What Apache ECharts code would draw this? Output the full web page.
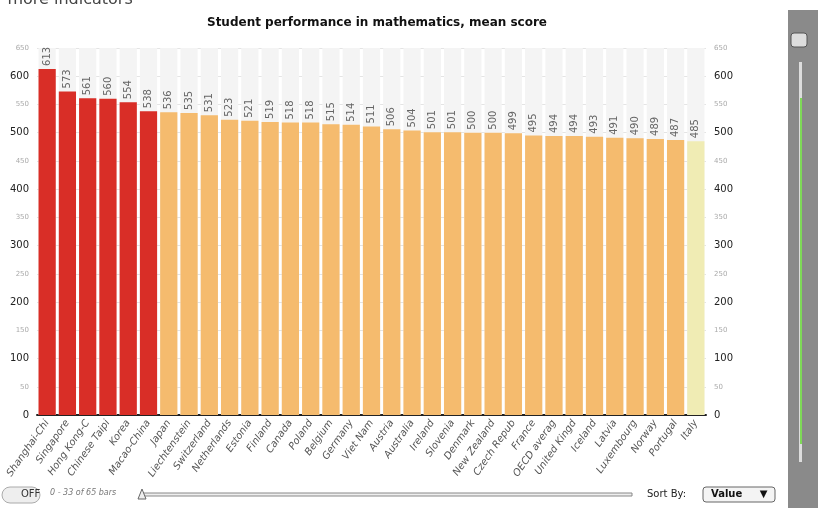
<!DOCTYPE html>
<html>
<head>
<meta charset="utf-8">
<script src="https://cdn.jsdelivr.net/npm/echarts@6/dist/echarts.min.js"></script>
<style>html,body{margin:0;padding:0;background:#fff}#chart{width:824px;height:520px}</style>
</head>
<body>
<div id="chart"></div>
<script>
var countries = ['Shanghai-Chi','Singapore','Hong Kong-C','Chinese Taipi','Korea','Macao-China','Japan','Liechtenstein','Switzerland','Netherlands','Estonia','Finland','Canada','Poland','Belgium','Germany','Viet Nam','Austria','Australia','Ireland','Slovenia','Denmark','New Zealand','Czech Repub','France','OECD averag','United Kingd','Iceland','Latvia','Luxembourg','Norway','Portugal','Italy'];
var scores = [613,573,561,560,554,538,536,535,531,523,521,519,518,518,515,514,511,506,504,501,501,500,500,499,495,494,494,493,491,490,489,487,485];
var topCount = 6;

function barColor(i) {
  if (i < topCount) return '#d92e27';
  if (i === countries.length - 1) return '#f0ecb4';
  return '#f5bb6e';
}

var chart = echarts.init(document.getElementById('chart'));
var yLabel = {
  fontFamily: 'DejaVu Sans',
  formatter: function (v) { return v % 100 === 0 ? '{major|' + v + '}' : '{minor|' + v + '}'; },
  rich: {
    major: { fontSize: 10, color: '#222' },
    minor: { fontSize: 7, color: '#aaa' }
  }
};
chart.setOption({
  animation: false,
  title: {
    text: 'Student performance in mathematics, mean score',
    left: 372, top: 12, textAlign: 'center',
    textStyle: { fontFamily: 'DejaVu Sans', fontSize: 12, fontWeight: 'bold', color: '#111' }
  },
  grid: { left: 37, right: 118, top: 48, bottom: 105 },
  xAxis: {
    type: 'category', data: countries,
    axisTick: { show: false },
    axisLine: { lineStyle: { color: '#222', width: 2 } },
    axisLabel: { rotate: 55, interval: 0, fontSize: 10, color: '#555', fontStyle: 'italic',
      fontFamily: 'DejaVu Sans', margin: 6 }
  },
  yAxis: [
    { type: 'value', min: 0, max: 650, interval: 50, axisLabel: yLabel,
      splitLine: { lineStyle: { color: '#e4e4e4' } } },
    { type: 'value', min: 0, max: 650, interval: 50, position: 'right', axisLabel: yLabel,
      splitLine: { show: false } }
  ],
  series: [{
    type: 'bar',
    data: scores.map(function (v, i) { return { value: v, itemStyle: { color: barColor(i) } }; }),
    barCategoryGap: '15%',
    showBackground: true,
    backgroundStyle: { color: '#f4f4f4' },
    label: { show: true, position: 'top', rotate: 90, align: 'left', verticalAlign: 'middle',
      distance: 3, fontSize: 10, color: '#666', fontFamily: 'DejaVu Sans' }
  }],
  graphic: [
    { type: 'text', left: -14, top: -8, style: { text: 'or more indicators', fontSize: 16, fill: '#444', fontFamily: 'DejaVu Sans' } },
    { type: 'rect', shape: { x: 788, y: 10, width: 30, height: 498 }, style: { fill: '#8a8a8a' } },
    { type: 'rect', shape: { x: 799, y: 62, width: 3, height: 400 }, style: { fill: '#ddd' } },
    { type: 'rect', shape: { x: 800, y: 98, width: 2, height: 346 }, style: { fill: '#7ed957' } },
    { type: 'rect', shape: { x: 791, y: 33, width: 16, height: 14, r: 3 }, style: { fill: '#ddd', stroke: '#555' } },
    { type: 'rect', shape: { x: 2, y: 487, width: 38, height: 16, r: 8 }, style: { fill: '#eee', stroke: '#aaa' } },
    { type: 'text', x: 21, y: 489, style: { text: 'OFF', fontSize: 10, fill: '#333', fontFamily: 'DejaVu Sans' } },
    { type: 'text', x: 50, y: 489, style: { text: '0 - 33 of 65 bars', fontSize: 8, fill: '#777', fontStyle: 'italic', fontFamily: 'DejaVu Sans' } },
    { type: 'rect', shape: { x: 142, y: 493, width: 490, height: 3 }, style: { fill: '#eee', stroke: '#888' } },
    { type: 'polygon', shape: { points: [[138, 499], [146, 499], [142, 489]] }, style: { fill: '#eee', stroke: '#666' } },
    { type: 'text', x: 647, y: 489, style: { text: 'Sort By:', fontSize: 10, fill: '#222', fontFamily: 'DejaVu Sans' } },
    { type: 'rect', shape: { x: 703, y: 487, width: 72, height: 15, r: 3 }, style: { fill: '#f4f4f4', stroke: '#666' } },
    { type: 'text', x: 711, y: 489, style: { text: 'Value     ▼', fontSize: 10, fontWeight: 'bold', fill: '#111', fontFamily: 'DejaVu Sans' } }
  ]
});
</script>
</body>
</html>
